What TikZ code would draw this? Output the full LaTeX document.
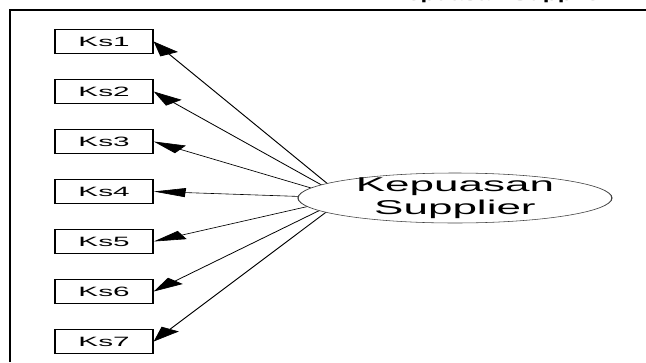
\documentclass[tikz,border=0pt]{standalone}
\usepackage{fontspec}
\usepackage{graphicx}
\setmainfont{Liberation Sans}
\usetikzlibrary{arrows.meta,shapes.geometric}
\begin{document}
\begin{tikzpicture}[x=1pt,y=-1pt,
  indicator/.style={draw=black,line width=0.6pt,fill=white,
    minimum width=44.5pt,minimum height=24.5pt,inner sep=0pt,
    font=\fontsize{13.5}{15}\selectfont},
  loading/.style={line width=0.6pt,-{Triangle[length=14.5pt,width=9pt]}},
  latent/.style={ellipse,draw=black!75,line width=0.55pt,fill=white,
    minimum width=142.7pt,minimum height=50pt,inner sep=0pt},
  latentlabel/.style={font=\fontsize{20}{23}\selectfont,align=center,inner sep=0pt},
]
\useasboundingbox (0,0) rectangle (646,362);

% caption line above the frame; only its descenders reach the page
\begin{scope}
  \clip (0,0) rectangle (646,3.2);
  \node[anchor=base west,inner sep=0pt,font=\bfseries\fontsize{11}{13}\selectfont]
    (caption) at (389.5,0.8) {\scalebox{2.2}[1]{Kepuasan Supplier}};
\end{scope}

% frame
\draw[line width=2pt] (10,362) -- (10,10) -- (646,10);

% measurement model, drawn on a horizontally stretched canvas
\begin{scope}[transform canvas={xscale=2.2}]
  \coordinate (c) at (156.8,198);
  \foreach \i in {1,...,7}
    \node[indicator] (ks\i) at (47.3,{41.5+50*(\i-1)}) {Ks\i};
  \foreach \i in {1,...,7}
    \draw[loading] (c) -- (ks\i.east);
  \node[latent] (kp) at (206.8,198) {};
  \node[latentlabel] (kplabel) at (kp.center) {Kepuasan\\Supplier};
\end{scope}
\end{tikzpicture}
\end{document}
